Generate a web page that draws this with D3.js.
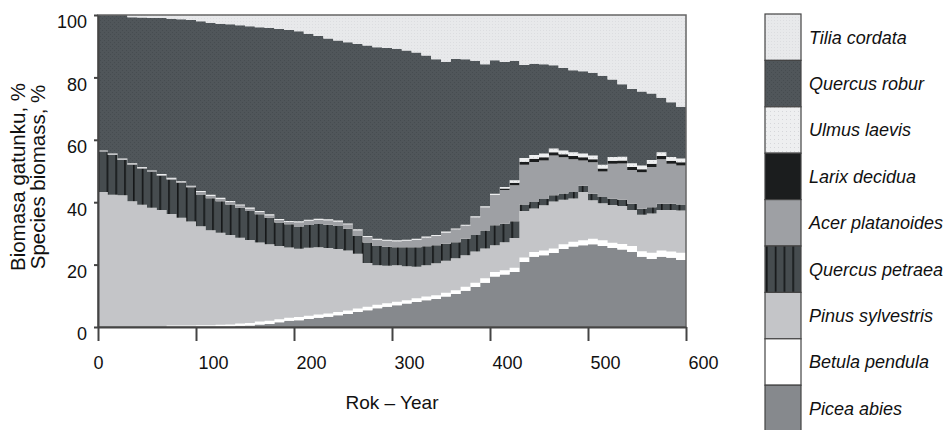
<!DOCTYPE html>
<html>
<head>
<meta charset="utf-8">
<script src="https://cdn.jsdelivr.net/npm/d3@7"></script>
<style>
  body { margin: 0; background: #fff; }
  text { font-family: "Liberation Sans", Arial, sans-serif; }
</style>
</head>
<body>
<script>
// years, every 10 years
var years = d3.range(0, 601, 10);

// species biomass, %
var piceaAbies = [0,0,0,0,0,0,0,0,0,0, 0,0,0,0,0.4,0.5,0.8,1,1.5,2, 2.2,2.6,3,3.3,3.8,4.2,4.8,5.4,6,6.5, 7,7.5,8,8.6,9,9.8,10.6,11.6,12.8,14.2, 16.2,16.8,17.6,20.8,22.5,23,23.7,25,25.8,26.2, 26.5,26,25.3,24.8,24,22.5,21.8,22.5,22.2,21.5, 21.5];
var betulaPendula = [0,0,0,0,0,0,0,0.5,0.5,0.5, 0.6,0.6,0.7,0.8,0.7,0.8,1,1,1,1, 1,1,1,1,1,1.1,1.1,1.1,1.1,1.1, 1.1,1.1,1.2,1.2,1.2,1.2,1.2,1.3,1.4,1.4, 1.4,1.4,1.4,1.5,1.5,1.5,1.5,1.5,1.5,1.6, 1.8,1.8,1.7,1.8,2,1.8,2,2,2,2.3, 2.3];
var pinusSylvestris = [43.3,42.4,42.2,40.3,39.2,38.2,37.5,35.7,34.5,33.3, 31.7,30.4,29.5,28.7,27.5,26.6,25.3,24.5,23.5,22.5, 21.9,21.8,21.6,21,20.2,19.2,17.6,14,12.7,12, 11.7,10.9,10.1,10,10.2,10.2,10.2,10.1,10,9.6, 8.6,9,9.5,14.9,14,14.5,15,14.3,13.9,15.5, 12.3,11.9,12.1,12.2,11.5,11.7,12.6,13,13.3,13.5, 13.7];
var quercusPetraea = [12.8,12.7,11.3,11.7,11.6,11.5,11,11.1,11.2,11, 10.2,10.3,10.1,9.8,9.6,9.3,9,8.5,7.5,7.4, 7.1,7.3,7.4,7.5,7.4,7,5.7,6.6,6.2,6.1, 5.8,6.1,6.3,6.1,5.8,5.5,5.2,5.3,5.3,5.7, 6.4,5.9,5.4,2.1,2.1,2,2,2,2.1,2, 2.1,2,2,2,2,1.9,2,2,2,2, 2];
var acerPlatanoides = [0.3,0.3,0.3,0.3,0.3,0.3,0.3,0.3,0.3,0.3, 0.8,0.8,0.8,0.8,0.8,0.8,0.8,0.8,0.8,0.8, 1.4,1.4,1.4,1.4,1.4,1.4,1.8,1.8,2,2, 1.9,2.1,2.4,2.8,3,3.6,4.1,4.2,5.7,7.5, 9.8,10.8,11.5,12.7,12.8,12.4,12.8,11.6,10.5,8.1, 10.1,8.1,11.2,11.6,10.8,11.7,12.9,14.3,12.8,12.5, 11.7];
var larixDecidua = [0,0,0,0,0,0,0,0,0,0, 0,0,0,0,0,0,0,0,0,0, 0,0,0,0,0,0,0,0,0,0, 0,0,0,0,0,0,0,0,0,0, 0,0.5,0.8,1,1,1,1,1,1,1, 1,1,1,1,1,1,1,1,1,1, 1];
var ulmusLaevis = [0.2,0.2,0.2,0.2,0.2,0.2,0.2,0.2,0.2,0.2, 0.3,0.3,0.3,0.3,0.3,0.3,0.3,0.3,0.3,0.3, 0.3,0.3,0.3,0.3,0.3,0.3,0.3,0.3,0.3,0.3, 0.3,0.3,0.3,0.3,0.3,0.3,0.3,0.3,0.3,0.3, 0.3,0.5,0.8,1.2,1.2,1.2,1.2,1.2,1.2,1.2, 1.2,1.2,1.2,1.2,1.2,1.2,1.2,1.2,1.2,1.2, 1.2];
var quercusRobur = [43.4,44.4,46,46.8,47.9,48.8,50,51,51.9,53.1, 54.4,55.1,55.8,56.6,57.4,58.1,58.9,59.7,60.9,61.2, 60.9,59.6,58.6,58,57.7,58.1,59.4,61,61.4,61.4, 61.4,60.6,59.7,58,56.3,54.4,54.3,53,49.8,45.5, 42.8,40,38.3,29.8,29.3,28.6,26.7,26.4,26.3,26.4, 26.5,28.5,24.8,23.2,23.8,23.7,21.3,17.5,17.5,16.6, 16.6];
var tiliaCordata = [0,0,0,0.7,0.8,1,1,1.2,1.4,1.6, 2,2.5,2.8,3,3.3,3.6,3.9,4.2,4.5,4.8, 5.2,6,6.7,7.5,8.2,8.7,9.3,9.8,10.3,10.6, 10.8,11.4,12,13,14.2,15,14.1,14.2,14.7,15.8, 14.5,15.1,14.7,16,15.6,15.8,16.1,17,17.7,18, 18.5,19.5,20.7,22.2,23.7,24.5,25.2,26.5,28,29.4, 30];

var xTicks = [0, 100, 200, 300, 400, 500, 600];
var yTicks = [0, 20, 40, 60, 80, 100];

// bottom to top
var species = [
  {key: "Picea abies", values: piceaAbies, fill: "#86898d"},
  {key: "Betula pendula", values: betulaPendula, fill: "#ffffff"},
  {key: "Pinus sylvestris", values: pinusSylvestris, fill: "#c4c5c8"},
  {key: "Quercus petraea", values: quercusPetraea, fill: "url(#petraea)"},
  {key: "Acer platanoides", values: acerPlatanoides, fill: "#9ea0a4"},
  {key: "Larix decidua", values: larixDecidua, fill: "#1b1d1e"},
  {key: "Ulmus laevis", values: ulmusLaevis, fill: "url(#ulmus)"},
  {key: "Quercus robur", values: quercusRobur, fill: "url(#robur)"},
  {key: "Tilia cordata", values: tiliaCordata, fill: "url(#tilia)"}
];

var table = years.map(function(yr, i) {
  var row = {year: yr};
  species.forEach(function(s) { row[s.key] = s.values[i]; });
  return row;
});

var svg = d3.select("body").append("svg")
  .attr("width", 949)
  .attr("height", 430);

// fill patterns
var defs = svg.append("defs");

var pRobur = defs.append("pattern").attr("id", "robur")
  .attr("patternUnits", "userSpaceOnUse").attr("width", 4).attr("height", 4);
pRobur.append("rect").attr("width", 4).attr("height", 4).attr("fill", "#50565a");
pRobur.append("rect").attr("x", 0).attr("y", 0).attr("width", 1).attr("height", 1).attr("fill", "#464c50");
pRobur.append("rect").attr("x", 2).attr("y", 2).attr("width", 1).attr("height", 1).attr("fill", "#464c50");

var pTilia = defs.append("pattern").attr("id", "tilia")
  .attr("patternUnits", "userSpaceOnUse").attr("width", 3).attr("height", 3);
pTilia.append("rect").attr("width", 3).attr("height", 3).attr("fill", "#e8e9eb");
pTilia.append("rect").attr("width", 1).attr("height", 1).attr("fill", "#dcdde0");

var pUlmus = defs.append("pattern").attr("id", "ulmus")
  .attr("patternUnits", "userSpaceOnUse").attr("width", 4).attr("height", 4);
pUlmus.append("rect").attr("width", 4).attr("height", 4).attr("fill", "#eeeff0");
pUlmus.append("rect").attr("x", 1).attr("y", 1).attr("width", 1).attr("height", 1).attr("fill", "#d6d7da");

var pPetraea = defs.append("pattern").attr("id", "petraea")
  .attr("patternUnits", "userSpaceOnUse").attr("width", 8.8).attr("height", 10);
pPetraea.append("rect").attr("width", 8.8).attr("height", 10).attr("fill", "#464c4f");
pPetraea.append("rect").attr("x", 1).attr("width", 1.6).attr("height", 10).attr("fill", "#141617");

var x = d3.scaleLinear().domain([0, 600]).range([98, 686]);
var y = d3.scaleLinear().domain([0, 100]).range([327, 15]);

var stack = d3.stack().keys(species.map(function(s) { return s.key; }));
var layers = stack(table);

var area = d3.area()
  .curve(d3.curveStepAfter)
  .x(function(d) { return x(d.data.year); })
  .y0(function(d) { return y(d[0]); })
  .y1(function(d) { return y(d[1]); });

svg.append("g").selectAll("path")
  .data(layers)
  .enter()
  .append("path")
  .attr("fill", function(d, i) { return species[i].fill; })
  .attr("d", area);

// frame
svg.append("rect")
  .attr("x", x(0)).attr("y", y(100))
  .attr("width", x(600) - x(0)).attr("height", y(0) - y(100))
  .attr("fill", "none").attr("stroke", "#666").attr("stroke-width", 1.5);

var xAxis = d3.axisBottom(x).tickValues(xTicks).tickSize(14).tickSizeOuter(0).tickPadding(15);
var yAxis = d3.axisLeft(y).tickValues(yTicks).tickSize(4).tickSizeOuter(0).tickPadding(7);

var xAxisGroup = svg.append("g").attr("transform", "translate(0," + y(0) + ")").call(xAxis);
var yAxisGroup = svg.append("g").attr("transform", "translate(" + x(0) + ",0)").call(yAxis);

[xAxisGroup, yAxisGroup].forEach(function(g) {
  g.select(".domain").attr("stroke", "#444").attr("stroke-width", 2);
  g.selectAll(".tick line").attr("stroke", "#444").attr("stroke-width", 2);
  g.selectAll(".tick text")
    .attr("fill", "#111")
    .attr("font-size", "18px")
    .attr("font-family", "Liberation Sans, Arial, sans-serif");
});
xAxisGroup.selectAll(".tick text").attr("dx", function(d, i) { return i === 0 ? 0 : 17; });
yAxisGroup.selectAll(".tick text").attr("dy", "0.72em");

svg.append("text")
  .attr("x", (x(0) + x(600)) / 2)
  .attr("y", 409)
  .attr("text-anchor", "middle")
  .attr("font-size", "19px")
  .attr("fill", "#111")
  .text("Rok – Year");

svg.append("text")
  .attr("transform", "translate(25,177)rotate(-90)")
  .attr("text-anchor", "middle")
  .attr("font-size", "20.5px")
  .attr("fill", "#111")
  .text("Biomasa gatunku, %");

svg.append("text")
  .attr("transform", "translate(45,177)rotate(-90)")
  .attr("text-anchor", "middle")
  .attr("font-size", "20.5px")
  .attr("fill", "#111")
  .text("Species biomass, %");

// legend, top to bottom
var legendItems = species.slice().reverse();
var cellH = 46.4;
var legend = svg.append("g").attr("transform", "translate(765,14)");

legend.selectAll("rect")
  .data(legendItems)
  .enter()
  .append("rect")
  .attr("x", 0)
  .attr("y", function(d, i) { return i * cellH; })
  .attr("width", 36)
  .attr("height", cellH)
  .attr("fill", function(d) { return d.fill; })
  .attr("stroke", "#444")
  .attr("stroke-width", 1.2);

legend.selectAll("text")
  .data(legendItems)
  .enter()
  .append("text")
  .attr("x", 44)
  .attr("y", function(d, i) { return i * cellH + cellH / 2; })
  .attr("dy", "0.35em")
  .attr("font-size", "18px")
  .attr("font-style", "italic")
  .attr("fill", "#111")
  .text(function(d) { return d.key; });
</script>
</body>
</html>
